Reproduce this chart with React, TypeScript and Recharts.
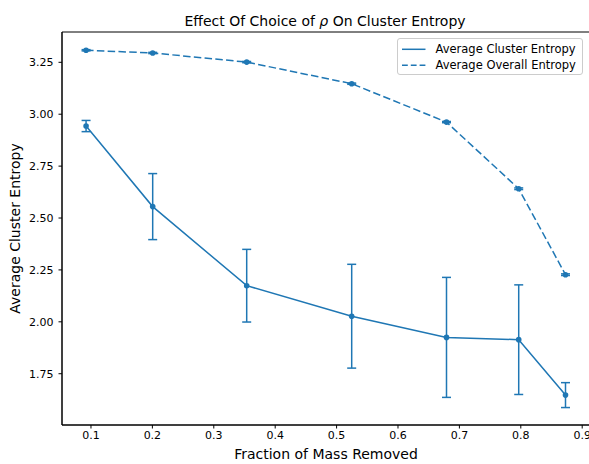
import React from 'react';
import { LineChart, Line, XAxis, YAxis, ErrorBar, ReferenceArea, Label } from 'recharts';

const fractionRemoved = [0.092, 0.2005, 0.3536, 0.5246, 0.679, 0.7966, 0.8728];
const clusterEntropy = [2.943, 2.555, 2.174, 2.027, 1.925, 1.914, 1.647];
const clusterEntropyErr = [0.027, 0.159, 0.175, 0.25, 0.289, 0.264, 0.06];
const overallEntropy = [3.308, 3.295, 3.251, 3.147, 2.962, 2.641, 2.227];
const overallEntropyErr = [0.003, 0.003, 0.003, 0.003, 0.003, 0.004, 0.004];

const xTicks = [0.1, 0.2, 0.3, 0.4, 0.5, 0.6, 0.7, 0.8, 0.9];
const yTicks = [1.75, 2.0, 2.25, 2.5, 2.75, 3.0, 3.25];
const xDomain: [number, number] = [0.0528, 0.9127];
const yDomain: [number, number] = [1.503, 3.396];

const seriesNames = ['Average Cluster Entropy', 'Average Overall Entropy'];
const titleText = 'Effect Of Choice of ';
const titleSymbol = 'ρ';
const titleRest = ' On Cluster Entropy';
const xLabel = 'Fraction of Mass Removed';
const yLabel = 'Average Cluster Entropy';

const data = fractionRemoved.map((x, i) => ({
  x,
  cluster: clusterEntropy[i],
  clusterErr: clusterEntropyErr[i],
  overall: overallEntropy[i],
  overallErr: overallEntropyErr[i],
}));

const BLUE = '#1f77b4';
const FONT = '"DejaVu Sans", sans-serif';

export default function App() {
  return (
    <div style={{ position: 'absolute', left: 0, top: 0, width: 589, height: 464, overflow: 'hidden', background: '#fff', fontFamily: FONT }}>
      <LineChart width={590} height={464} data={data} margin={{ top: 32, right: 0, bottom: 0, left: 0 }}>
        <XAxis
          dataKey="x"
          type="number"
          domain={xDomain}
          allowDataOverflow
          ticks={xTicks}
          tickFormatter={(v: number) => v.toFixed(1)}
          height={39}
          tickSize={3.5}
          tickMargin={3}
          axisLine={{ stroke: '#000', strokeWidth: 1 }}
          tickLine={{ stroke: '#000', strokeWidth: 1 }}
          tick={{ fill: '#000', fontSize: 11, fontFamily: FONT }}
        >
          <Label
            content={(props: any) => {
              const vb = props.viewBox || { x: 62, width: 528 };
              return (
                <text x={vb.x + vb.width / 2} y={459} textAnchor="middle" fontSize={14} fontFamily={FONT} fill="#000">
                  {xLabel}
                </text>
              );
            }}
          />
        </XAxis>
        <YAxis
          type="number"
          domain={yDomain}
          allowDataOverflow
          ticks={yTicks}
          tickFormatter={(v: number) => v.toFixed(2)}
          width={62}
          tickSize={3.5}
          tickMargin={5}
          axisLine={{ stroke: '#000', strokeWidth: 1 }}
          tickLine={{ stroke: '#000', strokeWidth: 1 }}
          tick={{ fill: '#000', fontSize: 11, fontFamily: FONT }}
        >
          <Label
            content={(props: any) => {
              const vb = props.viewBox || { y: 32, height: 393 };
              const cx = 20;
              const cy = vb.y + vb.height / 2;
              return (
                <text x={cx} y={cy} transform={`rotate(-90 ${cx} ${cy})`} textAnchor="middle" fontSize={14} fontFamily={FONT} fill="#000">
                  {yLabel}
                </text>
              );
            }}
          />
        </YAxis>
        <ReferenceArea x1={xDomain[0]} x2={xDomain[1]} y1={yDomain[0]} y2={yDomain[1]} fill="none" stroke="#000" strokeWidth={1} ifOverflow="visible" />
        <Line
          dataKey="overall"
          type="linear"
          stroke={BLUE}
          strokeWidth={1.5}
          strokeDasharray="7.5 3.3"
          dot={{ r: 2.8, fill: BLUE, stroke: BLUE, strokeWidth: 0 }}
          activeDot={false}
          isAnimationActive={false}
        >
          <ErrorBar dataKey="overallErr" direction="y" width={4.5} stroke={BLUE} strokeWidth={1.5} />
        </Line>
        <Line
          dataKey="cluster"
          type="linear"
          stroke={BLUE}
          strokeWidth={1.5}
          dot={{ r: 2.8, fill: BLUE, stroke: BLUE, strokeWidth: 0 }}
          activeDot={false}
          isAnimationActive={false}
        >
          <ErrorBar dataKey="clusterErr" direction="y" width={4.5} stroke={BLUE} strokeWidth={1.5} />
        </Line>
      </LineChart>
      <svg width={589} height={464} style={{ position: 'absolute', left: 0, top: 0, pointerEvents: 'none' }}>
        <text x={325} y={25.5} textAnchor="middle" fontSize={14} fontFamily={FONT} fill="#000">
          {titleText}
          <tspan fontStyle="italic">{titleSymbol}</tspan>
          {titleRest}
        </text>
      </svg>
      <div
        style={{
          position: 'absolute',
          left: 397,
          top: 38,
          width: 186,
          height: 37,
          boxSizing: 'border-box',
          border: '1px solid #cccccc',
          borderRadius: 3,
          background: 'rgba(255,255,255,0.8)',
        }}
      >
        {seriesNames.map((name, i) => (
          <div key={name} style={{ position: 'absolute', left: 0, top: 1.5 + i * 16.7, height: 16.7, width: 184 }}>
            <svg width={30} height={16.7} style={{ position: 'absolute', left: 0, top: 0 }}>
              <line x1={4} y1={8.3} x2={27.5} y2={8.3} stroke={BLUE} strokeWidth={1.5} strokeDasharray={i === 1 ? '5.8 3' : undefined} />
            </svg>
            <span style={{ position: 'absolute', left: 37.5, top: 0, lineHeight: '16.7px', fontSize: 11.5, color: '#000', whiteSpace: 'nowrap' }}>
              {name}
            </span>
          </div>
        ))}
      </div>
    </div>
  );
}
